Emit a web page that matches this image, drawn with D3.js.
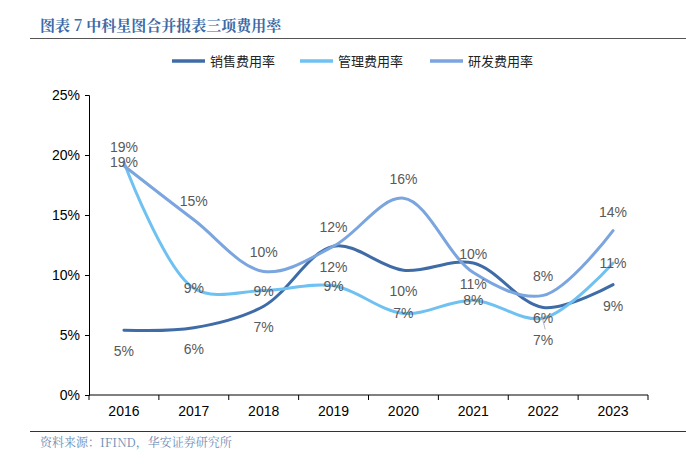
<!DOCTYPE html>
<html>
<head>
<meta charset="utf-8">
<script src="https://cdn.jsdelivr.net/npm/d3@7"></script>
<style>
body { margin: 0; background: #fff; }
</style>
</head>
<body>
<script>
var years = ["2016", "2017", "2018", "2019", "2020", "2021", "2022", "2023"];
var sales = [5.4, 5.6, 7.4, 12.4, 10.4, 11.0, 7.3, 9.2];     // 销售费用率
var admin = [19.4, 8.9, 8.7, 9.1, 6.8, 7.9, 6.4, 11.0];      // 管理费用率
var rnd = [19.1, 14.6, 10.3, 12.4, 16.4, 10.2, 8.3, 13.7];   // 研发费用率
var yTicks = [0, 5, 10, 15, 20, 25];

var w = 686, h = 465;
var plotL = 89, plotR = 648, plotT = 95, plotB = 395;
var cjk = "'Noto Sans CJK SC', sans-serif";
var latin = "'Liberation Sans', Arial, sans-serif";

var svg = d3.select("body").append("svg")
	.attr("width", w)
	.attr("height", h);

// title
svg.append("text")
	.attr("x", 40).attr("y", 31)
	.attr("font-family", "'Noto Serif CJK SC', 'Noto Sans CJK SC', serif")
	.attr("font-size", 15)
	.attr("font-weight", "bold")
	.attr("fill", "#3A6AA8")
	.text("图表 7 中科星图合并报表三项费用率");
svg.append("line")
	.attr("x1", 30).attr("x2", 686).attr("y1", 38.5).attr("y2", 38.5)
	.attr("stroke", "#555").attr("stroke-width", 1);

var x = d3.scaleBand().domain(years).range([plotL, plotR]);
var y = d3.scaleLinear().domain([0, 25]).range([plotB, plotT]);

// axes
svg.append("g")
	.attr("transform", "translate(" + plotL + ",0)")
	.call(d3.axisLeft(y).tickValues(yTicks).tickSize(4).tickFormat(function(d) { return d + "%"; }))
	.call(function(g) {
		g.select(".domain").attr("stroke", "#000");
		g.selectAll(".tick line").attr("stroke", "#000");
		g.selectAll("text").attr("font-family", latin).attr("font-size", 14).attr("fill", "#000").attr("x", -9);
	});

var xAxis = svg.append("g")
	.attr("transform", "translate(0," + plotB + ")")
	.call(d3.axisBottom(x).tickSize(0).tickPadding(11))
	.call(function(g) {
		g.select(".domain").attr("stroke", "#000").attr("d", "M" + plotL + ",0H" + plotR);
		g.selectAll("text").attr("font-family", latin).attr("font-size", 14).attr("fill", "#000");
	});
xAxis.selectAll(".sep")
	.data(d3.range(years.length + 1))
	.enter().append("line")
	.attr("x1", function(i) { return plotL + i * x.step(); })
	.attr("x2", function(i) { return plotL + i * x.step(); })
	.attr("y1", 0).attr("y2", 5)
	.attr("stroke", "#000");

var series = [
	{ name: "销售费用率", values: sales, color: "#3F6CA7", label: "below" },
	{ name: "管理费用率", values: admin, color: "#6FC1F2", label: "center" },
	{ name: "研发费用率", values: rnd, color: "#7AA5DE", label: "above" }
];

var line = d3.line()
	.x(function(d, i) { return x(years[i]) + x.bandwidth() / 2; })
	.y(function(d) { return y(d); })
	.curve(d3.curveCatmullRom.alpha(0.5));

series.forEach(function(s) {
	svg.append("path")
		.datum(s.values)
		.attr("d", line)
		.attr("fill", "none")
		.attr("stroke", s.color)
		.attr("stroke-width", 3)
		.attr("stroke-linecap", "round");
});

// data labels
series.forEach(function(s) {
	svg.selectAll(null)
		.data(s.values)
		.enter().append("text")
		.attr("x", function(d, i) { return x(years[i]) + x.bandwidth() / 2; })
		.attr("y", function(d, i) {
			var py = y(d);
			if (s.label == "above") return py - 14;
			if (s.label == "below") return py + (i == 6 ? 38 : 26);
			return py + 5;
		})
		.attr("text-anchor", "middle")
		.attr("font-family", latin)
		.attr("font-size", 14)
		.attr("fill", "#595959")
		.text(function(d) { return Math.round(d) + "%"; });
});
// leader line for the 2022 sales label
svg.append("line")
	.attr("x1", x("2022") + x.bandwidth() / 2 - 2).attr("y1", y(sales[6]) + 6)
	.attr("x2", x("2022") + x.bandwidth() / 2 + 2).attr("y2", y(sales[6]) + 22)
	.attr("stroke", "#aaa").attr("stroke-width", 0.8);

// legend
var legendX = [172, 300, 430];
series.forEach(function(s, i) {
	svg.append("line")
		.attr("x1", legendX[i]).attr("x2", legendX[i] + 33)
		.attr("y1", 61).attr("y2", 61)
		.attr("stroke", s.color).attr("stroke-width", 3.5);
	svg.append("text")
		.attr("x", legendX[i] + 38).attr("y", 66)
		.attr("font-family", cjk)
		.attr("font-size", 13)
		.attr("fill", "#222")
		.text(s.name);
});

// footer
svg.append("line")
	.attr("x1", 30).attr("x2", 686).attr("y1", 431.5).attr("y2", 431.5)
	.attr("stroke", "#333").attr("stroke-width", 1);
svg.append("text")
	.attr("x", 40).attr("y", 447)
	.attr("font-family", "'Noto Serif CJK SC', 'Noto Sans CJK SC', serif")
	.attr("font-size", 12)
	.attr("fill", "#6F8DB5")
	.text("资料来源：IFIND，华安证券研究所");
</script>
</body>
</html>
